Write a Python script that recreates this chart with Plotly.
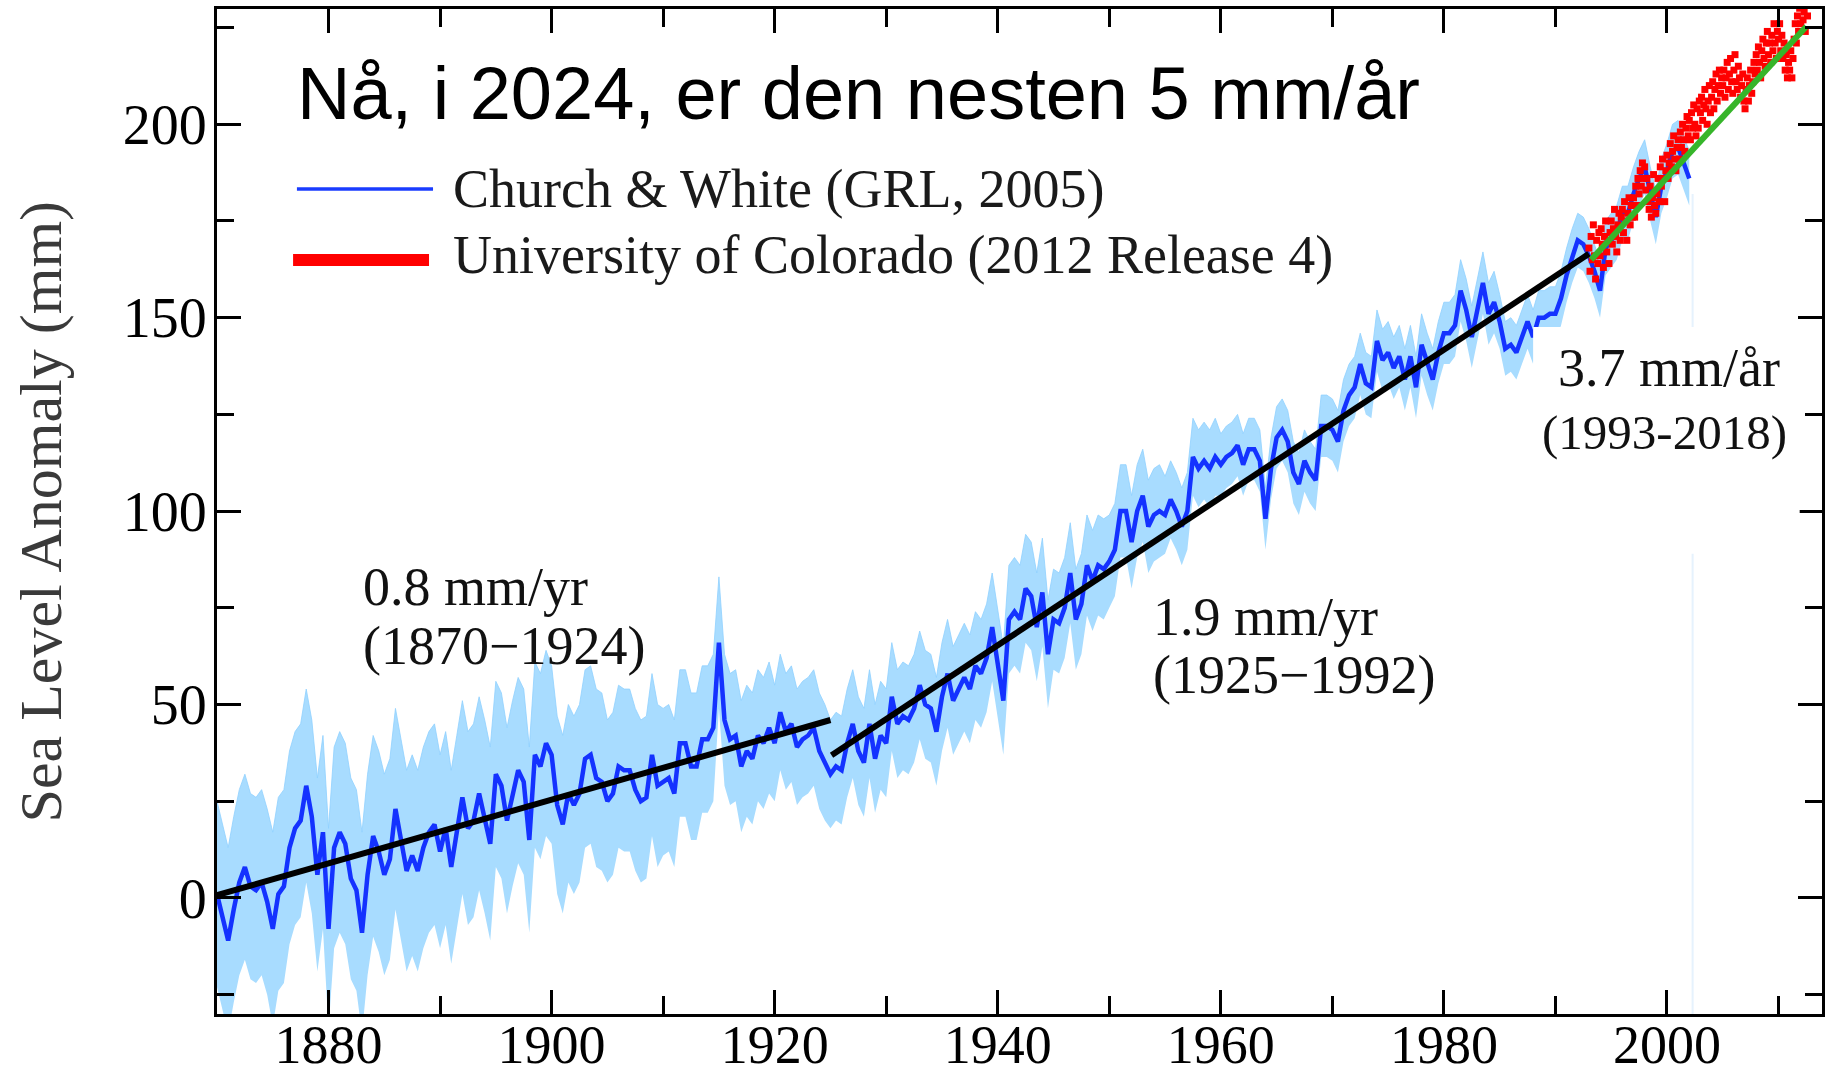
import numpy as np
import plotly.graph_objects as go

# ---------------- data ----------------
# Church & White reconstruction, half-year samples 1870.0 .. 2002.0 (mm)
cw_start = 1870.0
cw_step = 0.5
cw_values = [
    1, -5, -11, -3, 4, 8, 3, 2, 4, -1,
    -8, 1, 3, 13, 18, 20, 29, 21, 6, 17,
    -8, 13, 17, 14, 5, 2, -9, 6, 16, 12,
    6, 10, 23, 15, 7, 11, 7, 13, 17, 19,
    12, 18, 8, 17, 26, 18, 20, 27, 21, 14,
    32, 29, 20, 27, 33, 30, 15, 37, 34, 40,
    37, 24, 19, 27, 24, 27, 36, 37, 31, 30,
    25, 27, 34, 33, 33, 28, 25, 26, 37, 29,
    30, 31, 27, 40, 40, 34, 34, 41, 41, 44,
    66, 46, 41, 42, 34, 38, 36, 42, 40, 44,
    40, 48, 43, 45, 39, 41, 42, 44, 38, 35,
    32, 34, 33, 40, 45, 38, 35, 45, 36, 42,
    40, 52, 45, 47, 46, 49, 55, 50, 49, 43,
    52, 58, 51, 54, 57, 54, 60, 58, 62, 70,
    60, 51, 72, 74, 72, 80, 78, 70, 79, 63,
    72, 71, 75, 84, 72, 76, 86, 82, 86, 85,
    87, 90, 100, 100, 92, 100, 104, 96, 99, 100,
    99, 103, 100, 96, 100, 114, 111, 113, 111, 114,
    112, 114, 115, 117, 112, 116, 116, 113, 98, 111,
    119, 121, 118, 110, 107, 113, 110, 108, 122, 122,
    121, 118, 126, 130, 132, 138, 133, 132, 144, 139,
    141, 137, 140, 134, 140, 132, 143, 138, 134, 141,
    146, 146, 148, 157, 152, 145, 152, 159, 151, 154,
    149, 142, 143, 141, 145, 149, 145, 150, 150, 151,
    151, 155, 161, 166, 170, 169, 166, 162, 157, 168,
    170, 172, 177, 177, 182, 186, 189, 182, 176, 184,
    188, 193, 194, 190, 186,
]
# half-width of the uncertainty band, one value per 5-year block (mm)
cw_err_5yr = [24, 25, 26, 26, 25, 24, 23, 21, 19, 17, 15, 14, 14, 14,
              14, 13, 12, 10, 8, 8, 8, 8, 8, 7, 7, 7, 7]

# University of Colorado altimetry, 0.1-year samples from 1993.0 (mm)
cu_start = 1993.0
cu_step = 0.1
cu_values = [
    168, 162, 171, 165, 174, 166, 160, 170, 164, 172,
    166, 173, 169, 163, 171, 175, 167, 170, 164, 172,
    175, 169, 173, 178, 171, 167, 174, 177, 170, 176,
    178, 172, 180, 175, 170, 177, 181, 174, 179, 176,
    181, 176, 184, 179, 186, 182, 188, 184, 190, 186,
    189, 183, 186, 180, 178, 184, 176, 181, 187, 179,
    177, 182, 186, 180, 189, 184, 191, 186, 180, 188,
    192, 186, 190, 195, 189, 193, 197, 191, 188, 194,
    196, 191, 198, 194, 200, 196, 193, 199, 202, 197,
    201, 196, 203, 199, 205, 200, 197, 204, 199, 206,
    203, 207, 201, 205, 209, 204, 200, 206, 210, 203,
    207, 211, 204, 209, 213, 206, 210, 214, 208, 212,
    210, 214, 207, 212, 216, 209, 213, 217, 211, 208,
    214, 218, 211, 209, 215, 212, 207, 210, 213, 206,
    204, 209, 212, 206, 210, 214, 208, 211, 216, 213,
    218, 214, 220, 216, 212, 219, 222, 217, 215, 221,
    224, 218, 221, 216, 223, 219, 226, 221, 217, 224,
    222, 226, 219, 223, 217, 221, 214, 218, 212, 216,
    214, 219, 212, 217, 222, 226, 221, 228, 224, 230,
    226, 231, 227, 229, 224, 232, 228,
]

# fitted trend lines (end points)
trend1_years = [1870.0, 1925.0]
trend1_values = [0.7, 46.0]
trend2_years = [1925.1, 1993.0]
trend2_values = [36.9, 166.5]
trend3_years = [1993.2, 2012.5]
trend3_values = [165.0, 225.3]

x_ticks = [1880, 1900, 1920, 1940, 1960, 1980, 2000]
y_ticks = [0, 50, 100, 150, 200]

# ---------------- derived arrays ----------------
cw_years = cw_start + cw_step * np.arange(len(cw_values))
cw = np.array(cw_values, dtype=float)
cw_err = np.repeat(cw_err_5yr, 10)[: len(cw)]
cw_hi = cw + cw_err
cw_lo = cw - cw_err
cu_years = cu_start + cu_step * np.arange(len(cu_values))

SERIF = "Liberation Serif, Times New Roman, serif"
SANS = "Liberation Sans, Arial, sans-serif"

fig = go.Figure()
fig.add_trace(go.Scatter(x=cw_years, y=cw_lo, mode="lines",
                         line=dict(width=0, color="#a8dcff"),
                         hoverinfo="skip", showlegend=False))
fig.add_trace(go.Scatter(x=cw_years, y=cw_hi, mode="lines",
                         line=dict(width=0.8, color="#8fd0ff"),
                         fill="tonexty", fillcolor="#a8dcff",
                         hoverinfo="skip", showlegend=False))
fig.add_trace(go.Scatter(x=cw_years, y=cw, mode="lines",
                         line=dict(width=4.5, color="#1432ff"),
                         name="Church & White (GRL, 2005)", showlegend=False))
fig.add_trace(go.Scatter(x=cu_years, y=cu_values, mode="markers",
                         marker=dict(symbol="square", size=7, color="#ff0000",
                                     line=dict(width=0)),
                         name="University of Colorado", showlegend=False))
fig.add_trace(go.Scatter(x=trend1_years, y=trend1_values, mode="lines",
                         line=dict(width=6, color="#000000"), showlegend=False))
fig.add_trace(go.Scatter(x=trend2_years, y=trend2_values, mode="lines",
                         line=dict(width=6, color="#000000"), showlegend=False))
fig.add_trace(go.Scatter(x=trend3_years, y=trend3_values, mode="lines",
                         line=dict(width=6, color="#36b52a"), showlegend=False))

axis_common = dict(
    showgrid=False, zeroline=False, showline=True, linecolor="black",
    linewidth=3, mirror="allticks", ticks="inside", tickcolor="black",
    tickwidth=3, automargin=False,
)
fig.update_xaxes(range=[1870, 2013.9], tickvals=x_ticks, ticklen=24,
                 tickfont=dict(family=SERIF, size=54, color="black"),
                 minor=dict(dtick=10, tick0=1870, ticks="inside", ticklen=18,
                            tickwidth=3, tickcolor="black"),
                 ticklabelstandoff=-19, **axis_common)
fig.update_yaxes(range=[-30, 229.8], tickvals=y_ticks, ticklen=24,
                 tickfont=dict(family=SERIF, size=56, color="black"),
                 minor=dict(dtick=25, tick0=0, ticks="inside", ticklen=17,
                            tickwidth=3, tickcolor="black"),
                 ticklabelstandoff=-4, **axis_common)

shapes = [
    # faint vertical artefact line
    dict(type="line", xref="x", yref="y", x0=2002.3, x1=2002.3, y0=-30, y1=182,
         line=dict(color="#e6f2fd", width=2), layer="below"),
    # white patch behind the 3.7 mm/år label
    dict(type="rect", xref="x", yref="y", x0=1988.0, x1=2011.9, y0=89, y1=147.6,
         fillcolor="white", line=dict(width=0), layer="above"),
    # legend samples
    dict(type="line", xref="paper", yref="paper", x0=0.0498, x1=0.1346,
         y0=0.8209, y1=0.8209, line=dict(color="#1a3cff", width=3.5)),
    dict(type="line", xref="paper", yref="paper", x0=0.0474, x1=0.1321,
         y0=0.7502, y1=0.7502, line=dict(color="#ff0000", width=12)),
]

ann = []
def add_text(text, x, y, size, family=SERIF, xanchor="left", xref="x", yref="y",
             color="#111111", textangle=0):
    ann.append(dict(text=text, x=x, y=y, xref=xref, yref=yref, showarrow=False,
                    xanchor=xanchor, yanchor="middle", textangle=textangle,
                    font=dict(family=family, size=size, color=color)))

add_text("Nå, i 2024, er den nesten 5 mm/år", 0.0483, 0.9164, 74, family=SANS,
         xref="paper", yref="paper", color="black")
add_text("Church &amp; White (GRL, 2005)", 0.1458, 0.8209, 54,
         xref="paper", yref="paper", color="#1a1a1a")
add_text("University of Colorado (2012 Release 4)", 0.1458, 0.7557, 54,
         xref="paper", yref="paper", color="#1a1a1a")
add_text("0.8 mm/yr", 1882.9, 80.4, 54)
add_text("(1870\u22121924)", 1882.9, 65.1, 54)
add_text("1.9 mm/yr", 1953.7, 72.6, 54)
add_text("(1925\u22121992)", 1953.7, 57.6, 54)
add_text("3.7 mm/år", 2000.2, 137.0, 54, xanchor="center")
add_text("(1993-2018)", 1999.8, 120.2, 49, xanchor="center")
add_text("Sea Level Anomaly (mm)", -0.1097, 0.5, 60, xref="paper", yref="paper",
         xanchor="center", color="#3a3a3a", textangle=-90)

fig.update_layout(
    width=1826, height=1075,
    margin=dict(l=217, r=4, t=9, b=61, autoexpand=False),
    paper_bgcolor="white", plot_bgcolor="white",
    showlegend=False, shapes=shapes, annotations=ann,
)

fig.write_html("out.html")
